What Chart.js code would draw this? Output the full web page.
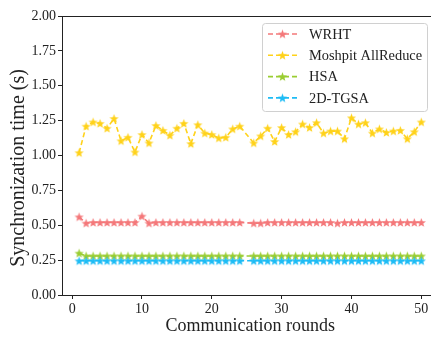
<!DOCTYPE html>
<html>
<head>
<meta charset="utf-8">
<script src="https://cdn.jsdelivr.net/npm/chart.js@4.4.1/dist/chart.umd.min.js"></script>
<style>
  html, body { margin: 0; padding: 0; background: #fff; overflow: hidden; }
  #wrap { position: relative; width: 444px; height: 337px; }
</style>
</head>
<body>
<div id="wrap"><canvas id="chart" width="444" height="337"></canvas></div>
<script>
// Synchronization time per communication round (round 25 not recorded)

// --- Data ---
const rounds = [1, 2, 3, 4, 5, 6, 7, 8, 9, 10, 11, 12, 13, 14, 15, 16, 17, 18, 19, 20, 21, 22, 23, 24,
  26, 27, 28, 29, 30, 31, 32, 33, 34, 35, 36, 37, 38, 39, 40, 41, 42, 43, 44, 45, 46, 47, 48, 49, 50];

const wrht = [0.56, 0.515, 0.52, 0.52, 0.52, 0.52, 0.52, 0.52, 0.52, 0.565, 0.515, 0.52, 0.52, 0.52, 0.52, 0.52, 0.52, 0.52, 0.52, 0.52, 0.52, 0.52, 0.52, 0.52,
  0.515, 0.515, 0.52, 0.52, 0.52, 0.52, 0.52, 0.52, 0.52, 0.52, 0.52, 0.52, 0.515, 0.52, 0.52, 0.52, 0.52, 0.52, 0.52, 0.52, 0.52, 0.52, 0.52, 0.52, 0.52];

const moshpit = [1.02, 1.21, 1.24, 1.23, 1.195, 1.265, 1.105, 1.13, 1.025, 1.15, 1.09, 1.215, 1.18, 1.145, 1.195, 1.23, 1.085, 1.22, 1.16, 1.15, 1.125, 1.13, 1.19, 1.21,
  1.09, 1.14, 1.195, 1.10, 1.20, 1.15, 1.17, 1.225, 1.20, 1.235, 1.16, 1.175, 1.175, 1.12, 1.27, 1.225, 1.235, 1.16, 1.19, 1.165, 1.175, 1.18, 1.12, 1.17, 1.24];

const hsa = [0.30, 0.28, 0.28, 0.28, 0.28, 0.28, 0.28, 0.28, 0.28, 0.28, 0.28, 0.28, 0.28, 0.28, 0.28, 0.28, 0.28, 0.28, 0.28, 0.28, 0.28, 0.28, 0.28, 0.28,
  0.28, 0.28, 0.28, 0.28, 0.28, 0.28, 0.28, 0.28, 0.28, 0.28, 0.28, 0.28, 0.28, 0.28, 0.28, 0.28, 0.28, 0.28, 0.28, 0.28, 0.28, 0.28, 0.28, 0.28, 0.28];

const tgsa = [0.245, 0.245, 0.245, 0.245, 0.245, 0.245, 0.245, 0.245, 0.245, 0.245, 0.245, 0.245, 0.245, 0.245, 0.245, 0.245, 0.245, 0.245, 0.245, 0.245, 0.245, 0.245, 0.245, 0.245,
  0.245, 0.245, 0.245, 0.245, 0.245, 0.245, 0.245, 0.245, 0.245, 0.245, 0.245, 0.245, 0.245, 0.245, 0.245, 0.245, 0.245, 0.245, 0.245, 0.245, 0.245, 0.245, 0.245, 0.245, 0.245];

const seriesLabels = ['WRHT', 'Moshpit AllReduce', 'HSA', '2D-TGSA'];
const seriesColors = ['#f4787a', '#ffd21a', '#9acd32', '#1ebcf5'];
const xTicks = [0, 10, 20, 30, 40, 50];
const yTicks = [0, 0.25, 0.5, 0.75, 1.0, 1.25, 1.5, 1.75, 2.0];
const xTitle = 'Communication rounds';
const yTitle = 'Synchronization time (s)';

const FONT = "'Liberation Serif', 'Times New Roman', serif";

// Filled five-point star marker (matplotlib '*')
function makeStar(color) {
  const size = 11;
  const c = document.createElement('canvas');
  c.width = size;
  c.height = size;
  const g = c.getContext('2d');
  const cx = size / 2, cy = size / 2 + 0.4;
  const outer = 4.8, inner = 2.0;
  g.beginPath();
  for (let i = 0; i < 10; i++) {
    const r = i % 2 === 0 ? outer : inner;
    const a = -Math.PI / 2 + i * Math.PI / 5;
    const px = cx + r * Math.cos(a);
    const py = cy + r * Math.sin(a);
    if (i === 0) g.moveTo(px, py); else g.lineTo(px, py);
  }
  g.closePath();
  g.fillStyle = color;
  g.fill();
  return c;
}

const seriesValues = [wrht, moshpit, hsa, tgsa];

const datasets = seriesValues.map((vals, i) => ({
  label: seriesLabels[i],
  data: rounds.map((r, j) => ({ x: r, y: vals[j] })),
  borderColor: seriesColors[i],
  backgroundColor: seriesColors[i],
  borderWidth: 1.6,
  borderDash: [5, 3],
  pointStyle: makeStar(seriesColors[i]),
  pointRadius: 4,
  pointHoverRadius: 4,
  tension: 0,
  fill: false,
  order: seriesValues.length - i,
}));

// Frame around the plot area (matplotlib spines)
const framePlugin = {
  id: 'frame',
  afterDraw(chart) {
    const { ctx, chartArea: a } = chart;
    ctx.save();
    ctx.strokeStyle = '#222';
    ctx.lineWidth = 1;
    ctx.strokeRect(a.left + 0.5, a.top + 0.5, a.right - a.left, a.bottom - a.top);
    ctx.restore();
  },
};

// Y axis title, drawn by hand so it can sit a little below centre like the original
const yTitlePlugin = {
  id: 'yTitle',
  afterDraw(chart) {
    const { ctx } = chart;
    ctx.save();
    ctx.translate(19, 168);
    ctx.rotate(-Math.PI / 2);
    ctx.font = '20px ' + FONT;
    ctx.fillStyle = '#222';
    ctx.textAlign = 'center';
    ctx.textBaseline = 'middle';
    ctx.fillText(yTitle, 0, 0);
    ctx.restore();
  },
};

// Legend box in the upper right, drawn from the datasets
const legendPlugin = {
  id: 'boxLegend',
  afterDraw(chart) {
    const { ctx } = chart;
    const box = { x: 262.5, y: 23.5, w: 165, h: 88 };
    ctx.save();
    ctx.beginPath();
    ctx.roundRect(box.x, box.y, box.w, box.h, 3);
    ctx.fillStyle = 'rgba(255,255,255,0.85)';
    ctx.fill();
    ctx.strokeStyle = '#d0d0d0';
    ctx.lineWidth = 1;
    ctx.stroke();

    ctx.font = '14.4px ' + FONT;
    ctx.textBaseline = 'middle';
    chart.data.datasets.forEach((ds, i) => {
      const y = 34 + i * 21.3;
      ctx.strokeStyle = ds.borderColor;
      ctx.lineWidth = ds.borderWidth;
      ctx.setLineDash(ds.borderDash);
      ctx.beginPath();
      ctx.moveTo(268, y);
      ctx.lineTo(297, y);
      ctx.stroke();
      ctx.setLineDash([]);
      const img = ds.pointStyle;
      ctx.drawImage(img, 282.5 - img.width / 2, y - img.height / 2);
      ctx.fillStyle = '#222';
      ctx.fillText(ds.label, 309, y + 1);
    });
    ctx.restore();
  },
};

const axisCommon = {
  grid: { drawOnChartArea: false, drawTicks: true, tickLength: 4, color: '#222' },
  border: { display: true, color: '#222', width: 1 },
  ticks: { color: '#222', font: { family: FONT, size: 14 }, padding: 2 },
};

new Chart(document.getElementById('chart'), {
  type: 'line',
  data: { datasets },
  options: {
    responsive: false,
    animation: false,
    devicePixelRatio: 1,
    layout: { padding: { top: 16, right: 3, left: 0, bottom: 0 } },
    plugins: {
      legend: { display: false },
      tooltip: { enabled: false },
    },
    scales: {
      x: {
        type: 'linear',
        min: -1.45,
        max: 52.45,
        ...axisCommon,
        ticks: { ...axisCommon.ticks, callback: (v) => v.toString() },
        afterBuildTicks: (scale) => { scale.ticks = xTicks.map((v) => ({ value: v })); },
        afterFit: (scale) => { scale.height = 42; },
        title: {
          display: true,
          text: xTitle,
          color: '#222',
          font: { family: FONT, size: 18 },
          padding: { top: 0, bottom: 0 },
        },
      },
      y: {
        min: 0,
        max: 2,
        ...axisCommon,
        ticks: { ...axisCommon.ticks, callback: (v) => Number(v).toFixed(2) },
        afterBuildTicks: (scale) => { scale.ticks = yTicks.map((v) => ({ value: v })); },
        afterFit: (scale) => { scale.width = 62; },
      },
    },
  },
  plugins: [framePlugin, yTitlePlugin, legendPlugin],
});
</script>
</body>
</html>
